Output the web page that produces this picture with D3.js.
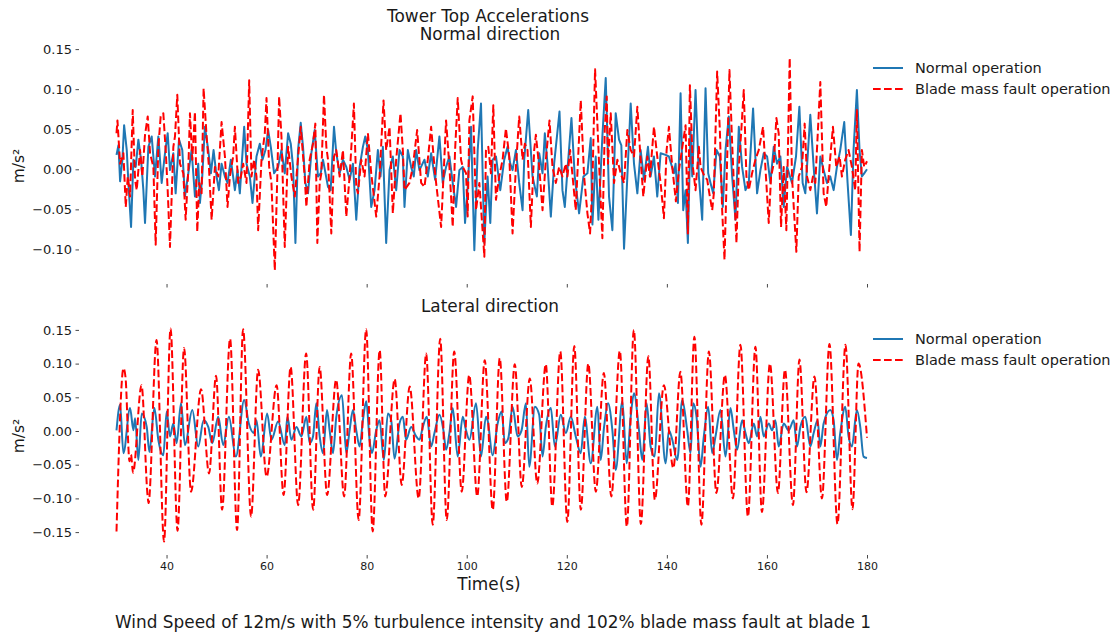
<!DOCTYPE html>
<html>
<head>
<meta charset="utf-8">
<script src="https://cdn.jsdelivr.net/npm/d3@7"></script>
<style>
  body { margin: 0; background: #fff; }
  svg { display: block; font-family: "DejaVu Sans", sans-serif; }
</style>
</head>
<body>
<svg id="chart" width="1118" height="637"></svg>
<script>
// Tower top acceleration records, [time (s), acceleration (m/s²)]
// Normal (fore-aft) direction, healthy rotor
const normalDirHealthy = [
[30.0,0.018],[30.39,0.030],[30.72,-0.015],[31.18,0.012],[31.52,0.055],[32.05,0.024],[32.38,-0.017],[32.91,-0.072],[33.38,0.012],[33.84,0.003],[34.37,0.037],[34.91,0.012],[35.37,-0.026],[35.70,-0.067],[36.37,0.028],[37.03,0.041],[37.70,-0.009],[38.36,0.041],[39.03,-0.017],[39.69,0.020],[40.23,0.045],[40.69,-0.001],[41.36,0.020],[41.82,-0.030],[42.49,0.037],[43.15,0.024],[43.68,-0.034],[44.35,-0.005],[45.01,0.024],[45.68,-0.034],[46.34,0.007],[46.68,-0.042],[47.14,-0.009],[47.67,0.053],[48.34,0.024],[48.87,-0.005],[49.40,0.024],[50.00,-0.009],[50.47,-0.026],[51.00,0.007],[51.67,-0.009],[52.19,-0.017],[52.86,0.012],[53.66,-0.026],[54.19,-0.001],[54.65,-0.030],[55.52,0.053],[55.98,0.007],[56.65,-0.009],[57.18,-0.042],[57.98,0.016],[58.64,0.032],[59.18,0.012],[59.77,0.024],[60.31,0.049],[60.84,0.028],[61.50,-0.005],[62.30,0.003],[62.97,0.024],[63.63,-0.005],[64.30,0.045],[64.83,0.032],[65.29,0.003],[65.76,-0.092],
[66.28,0.024],[66.82,0.058],[67.28,0.028],[67.75,-0.017],[68.28,-0.030],[68.94,0.020],[69.61,0.049],[70.27,-0.009],[70.81,-0.005],[71.27,0.012],[72.27,-0.022],[72.80,-0.026],[73.47,0.053],[73.93,0.020],[74.60,-0.005],[75.26,0.012],[75.93,0.003],[76.59,-0.013],[77.26,0.007],[77.92,-0.063],[78.59,0.003],[79.25,0.028],[79.72,0.041],[80.25,0.024],[80.91,-0.047],[81.58,-0.026],[82.24,0.024],[82.77,-0.009],[83.24,0.028],[83.90,-0.092],[84.57,-0.001],[85.23,0.016],[85.90,-0.026],[86.56,0.024],[87.23,0.016],[87.56,-0.047],[88.23,0.024],[88.89,0.003],[89.42,-0.009],[89.89,0.024],[90.55,-0.001],[91.55,0.012],[92.22,-0.009],[92.88,0.020],[93.68,-0.013],[94.54,0.041],[95.21,-0.017],[95.87,0.003],[96.54,0.016],[97.20,-0.017],[97.87,-0.047],[98.53,-0.001],[99.20,0.003],[99.66,-0.067],[100.19,-0.022],[100.86,0.053],[101.52,-0.101],[102.19,0.024],[102.85,0.082],
[103.51,-0.092],[104.17,-0.009],[104.71,-0.067],[105.17,0.012],[105.84,0.016],[106.70,-0.026],[107.50,0.012],[108.16,0.028],[108.70,0.007],[109.16,-0.001],[109.83,0.024],[110.49,-0.017],[111.16,-0.051],[111.49,0.012],[112.29,0.074],[113.15,-0.009],[114.02,-0.034],[114.48,0.020],[115.15,-0.005],[115.61,0.045],[116.14,0.007],[116.81,-0.059],[117.47,0.007],[118.54,0.072],[119.13,-0.026],[119.60,-0.047],[120.13,-0.001],[120.93,0.064],[121.59,-0.009],[122.46,-0.055],[123.32,-0.009],[124.12,-0.005],[124.79,0.039],[125.12,-0.069],[125.78,0.016],[126.32,-0.063],[127.11,0.041],[127.78,0.114],[128.44,-0.034],[129.11,-0.076],[129.77,0.070],[130.44,0.037],[130.90,0.030],[131.44,-0.099],[132.10,-0.009],[132.77,0.082],[133.43,0.007],[134.10,-0.030],[134.76,0.024],[135.42,-0.013],[136.22,0.028],[136.75,-0.009],[137.42,0.016],[138.08,-0.034],[138.75,0.020],[139.75,0.018],[140.41,0.016],
[141.41,-0.005],[141.74,0.007],[142.21,-0.042],[142.74,0.095],[143.27,-0.051],[143.74,-0.026],[144.20,-0.092],[144.73,0.049],[145.07,-0.009],[145.73,0.099],[146.40,-0.009],[147.06,-0.063],[147.73,0.101],[148.26,-0.005],[148.72,-0.017],[149.26,-0.030],[149.92,0.024],[150.59,0.016],[151.18,-0.047],[151.72,0.024],[152.38,0.066],[153.05,-0.009],[153.71,-0.063],[154.38,0.053],[155.04,0.003],[155.71,-0.026],[156.37,-0.017],[157.23,0.076],[158.03,-0.030],[158.70,-0.001],[159.36,0.020],[160.03,0.016],[160.69,-0.017],[161.36,0.028],[162.02,0.007],[162.69,0.016],[163.35,-0.047],[164.02,0.003],[165.01,-0.017],[165.81,0.016],[166.48,0.078],[167.14,-0.017],[167.67,-0.030],[168.67,0.068],[169.34,0.003],[170.00,-0.055],[170.67,0.016],[171.33,-0.001],[172.00,-0.017],[172.66,-0.009],[173.33,-0.026],[173.99,0.003],[174.65,0.024],[175.45,0.059],[176.12,-0.017],[176.78,-0.082],[177.31,0.024],[177.98,0.099],[178.51,0.024],[178.98,-0.009],[179.44,-0.005],[180.0,0.000]
];

// Normal (fore-aft) direction, blade mass fault
const normalDirFault = [
[30.0,0.045],[30.19,0.061],[30.72,0.007],[31.38,0.020],[31.85,-0.047],[32.25,-0.009],[32.71,-0.034],[33.24,0.074],[33.71,-0.013],[34.04,-0.026],[34.71,0.024],[35.17,-0.009],[35.70,0.043],[36.24,0.066],[36.71,0.020],[37.37,0.003],[37.83,-0.094],[38.36,0.028],[38.83,0.066],[39.36,0.070],[39.83,0.024],[40.23,-0.026],[40.69,-0.097],[41.36,0.028],[41.69,0.041],[42.15,0.093],[42.69,0.007],[43.35,-0.005],[43.82,-0.063],[44.35,-0.001],[44.68,0.070],[45.15,0.012],[45.68,0.072],[46.14,-0.078],[46.54,-0.017],[47.01,-0.030],[47.41,0.101],[48.01,0.041],[48.47,0.003],[49.01,-0.063],[49.67,0.003],[50.33,-0.009],[51.00,0.059],[51.67,0.016],[52.19,-0.047],[52.66,-0.009],[53.32,0.016],[53.66,0.053],[54.32,-0.017],[54.86,-0.009],[55.32,0.007],[55.98,-0.017],[56.52,0.111],[56.98,-0.009],[57.51,0.012],[57.98,-0.009],[58.31,-0.076],[58.98,0.012],[59.64,0.045],[59.98,0.089],[60.51,0.003],[60.97,-0.017],[61.64,-0.126],[62.17,-0.001],[62.50,0.091],[62.97,0.041],[63.63,-0.097],[64.30,0.028],[64.96,-0.009],[65.63,-0.034],
[66.42,0.024],[66.82,0.053],[67.61,-0.009],[67.95,-0.047],[68.61,0.012],[69.28,0.032],[69.74,0.057],[70.14,-0.092],[70.61,-0.017],[70.94,-0.005],[71.47,0.093],[71.94,0.028],[72.27,0.012],[72.93,-0.080],[73.47,0.016],[73.93,0.024],[74.60,-0.009],[75.26,0.024],[75.93,-0.059],[76.59,-0.009],[77.45,0.082],[77.92,-0.022],[78.25,-0.030],[78.92,0.012],[79.58,-0.009],[80.25,0.045],[80.91,-0.005],[81.91,-0.059],[82.57,-0.009],[83.37,0.086],[83.90,0.024],[84.57,0.053],[85.23,-0.055],[85.90,0.012],[86.76,0.070],[87.23,0.024],[87.56,-0.026],[88.56,-0.017],[89.22,0.003],[90.09,0.049],[90.89,-0.017],[91.55,-0.022],[92.22,0.012],[92.88,0.053],[93.55,0.003],[93.88,-0.017],[94.88,-0.072],[95.54,0.016],[95.87,0.061],[96.54,0.003],[97.20,-0.072],[97.67,0.024],[98.20,0.089],[98.86,0.012],[99.20,0.003],[99.86,-0.005],[100.19,-0.059],[100.53,0.061],[101.19,0.091],[101.86,-0.051],[102.52,-0.017],[103.52,-0.109],
[103.84,0.024],[104.31,0.028],[104.84,-0.005],[105.31,0.080],[105.84,-0.038],[106.50,-0.009],[107.17,0.012],[107.83,0.051],[108.50,0.016],[109.16,-0.080],[109.83,0.003],[110.49,0.066],[111.16,0.012],[111.62,0.032],[112.15,0.024],[112.82,-0.072],[113.48,0.024],[113.82,0.043],[114.48,0.003],[115.15,-0.051],[115.81,0.012],[116.54,0.061],[117.14,0.003],[117.81,-0.017],[118.47,0.003],[119.13,-0.009],[119.80,0.007],[120.13,-0.009],[120.66,0.024],[121.79,-0.051],[122.79,0.086],[123.46,-0.009],[124.12,-0.055],[124.65,-0.080],[125.12,-0.017],[125.65,0.125],[126.45,0.007],[127.11,-0.086],[127.58,0.049],[127.98,0.091],[128.24,0.007],[128.78,0.070],[129.44,-0.017],[130.11,0.012],[130.77,-0.005],[131.44,-0.017],[132.10,0.049],[132.77,0.024],[133.43,0.016],[134.10,0.078],[134.63,0.024],[135.29,-0.034],[136.09,0.016],[136.62,-0.009],[137.42,0.053],[138.08,0.016],[138.75,-0.017],[139.41,-0.061],[139.95,0.024],[140.41,0.053],[141.08,0.003],[141.80,-0.040],
[142.41,-0.001],[143.74,0.055],[144.20,-0.080],[144.60,0.105],[145.20,0.003],[145.73,-0.026],[146.40,0.028],[146.73,0.003],[147.53,-0.009],[148.06,-0.013],[148.59,-0.034],[149.06,-0.051],[149.39,-0.030],[150.05,0.122],[150.59,0.049],[151.05,-0.051],[151.52,-0.113],[152.05,0.012],[152.51,0.124],[153.05,0.032],[153.91,-0.092],[154.38,0.003],[154.84,0.045],[155.37,0.099],[155.90,-0.009],[156.37,-0.026],[157.03,-0.005],[157.70,0.012],[158.36,0.024],[159.23,0.053],[159.69,0.003],[160.36,-0.067],[160.83,-0.009],[161.36,0.007],[161.89,0.064],[162.35,0.045],[162.82,-0.072],[163.35,0.003],[163.88,-0.076],[164.55,0.139],[165.01,-0.009],[165.88,-0.103],[166.35,-0.009],[167.01,0.003],[167.54,0.057],[168.01,-0.009],[168.67,-0.026],[169.20,-0.009],[169.67,-0.017],[170.67,0.109],[171.33,-0.030],[171.86,-0.047],[172.33,-0.009],[173.19,0.053],[173.86,0.003],[174.52,0.016],[174.99,-0.009],[175.65,0.012],[176.32,0.024],[176.98,0.003],[177.65,-0.026],[177.98,0.074],[178.51,-0.103],[178.98,0.024],[179.44,0.003],[180.0,0.010]
];

// Lateral (side-side) direction, healthy rotor
const lateralHealthy = [
[30.0,0.001],[30.72,0.039],[31.38,-0.033],[32.71,0.034],[33.38,0.001],[33.71,0.019],[34.37,-0.043],[35.04,0.026],[36.04,0.006],[36.57,-0.031],[37.57,0.034],[38.36,-0.013],[39.36,-0.036],[40.03,0.029],[40.69,-0.008],[41.36,0.011],[42.02,-0.018],[42.89,0.041],[43.68,-0.021],[45.15,0.031],[46.34,-0.023],[47.41,0.016],[48.34,0.006],[49.14,-0.018],[50.33,0.021],[51.33,-0.021],[52.46,0.021],[53.86,-0.038],[55.52,0.046],[56.45,0.011],[57.45,-0.003],[57.98,0.016],[58.84,-0.038],[60.11,0.026],[60.97,-0.013],[62.30,0.014],[63.63,-0.021],[64.16,0.021],[64.96,-0.013],[65.96,0.006],
[66.95,-0.008],[67.95,0.021],[68.61,-0.018],[69.28,-0.008],[69.94,0.041],[70.61,-0.008],[71.27,-0.033],[72.07,0.031],[72.60,0.001],[73.27,-0.033],[73.93,0.021],[75.06,0.053],[75.93,-0.033],[76.59,0.001],[77.26,0.031],[77.92,0.001],[78.59,-0.023],[79.25,0.016],[79.92,0.044],[80.58,-0.013],[81.05,-0.033],[81.91,0.001],[82.57,0.016],[83.44,-0.043],[84.24,0.026],[84.90,0.016],[85.57,-0.041],[86.56,0.011],[87.23,0.021],[87.89,-0.013],[88.89,0.006],[89.89,-0.008],[90.55,-0.013],[91.22,0.006],[92.02,0.021],[92.88,-0.023],[93.55,-0.003],[94.54,0.024],[95.34,0.001],[95.87,-0.028],[96.54,-0.003],[97.20,0.034],[98.20,-0.038],[99.20,0.021],[99.86,0.001],[100.53,-0.013],[101.86,0.041],[102.85,-0.038],[103.85,0.021],
[104.17,0.016],[105.17,-0.036],[106.17,0.011],[106.97,0.029],[107.63,-0.018],[108.30,-0.011],[109.16,0.036],[110.16,-0.008],[110.96,0.001],[111.82,0.041],[112.49,-0.053],[113.62,0.036],[114.48,0.024],[115.15,-0.038],[115.81,0.006],[116.81,0.034],[117.61,-0.023],[118.80,0.024],[119.80,-0.003],[120.80,0.021],[121.79,-0.008],[122.79,-0.033],[123.59,0.021],[124.79,-0.048],[126.12,0.036],[126.78,-0.043],[127.45,0.006],[128.24,0.041],[129.11,0.001],[129.77,-0.058],[131.10,0.044],[131.97,-0.048],[132.77,0.021],[133.43,0.056],[134.43,0.001],[135.09,-0.043],[135.96,0.041],[136.75,-0.023],[137.55,-0.038],[138.42,0.056],[139.75,-0.048],[140.41,0.001],[141.08,-0.013],
[142.07,-0.043],[143.07,0.046],[144.07,0.001],[144.73,-0.033],[145.27,0.041],[145.93,0.021],[146.73,-0.053],[147.39,-0.008],[148.26,0.036],[149.06,-0.033],[149.72,-0.008],[150.72,0.031],[151.72,-0.038],[152.71,0.034],[153.38,0.001],[154.04,-0.028],[155.04,0.016],[155.71,-0.003],[156.37,-0.018],[157.37,0.011],[158.03,-0.008],[158.70,0.021],[159.36,-0.008],[160.36,0.011],[161.02,0.001],[161.69,0.016],[162.35,-0.023],[163.35,0.011],[164.35,0.001],[165.35,0.016],[166.01,-0.023],[166.68,0.006],[167.67,0.021],[168.67,-0.023],[169.34,-0.003],[170.13,0.016],[170.67,-0.023],[171.33,0.011],[172.66,0.031],[173.33,0.016],[173.99,-0.043],[174.65,-0.003],[175.65,0.036],[176.32,-0.008],[176.98,-0.023],[177.98,0.031],[178.65,0.006],[179.31,-0.038],[180.0,-0.040]
];

// Lateral (side-side) direction, blade mass fault
const lateralFault = [
[30.0,-0.149],[31.4,0.093],[31.8,0.080],[32.6,-0.045],[32.9,-0.035],[33.3,-0.062],[35.0,0.068],[36.2,-0.095],[36.4,-0.107],[38.0,0.135],[39.5,-0.164],[40.8,0.152],[42.2,-0.148],[43.5,0.123],[44.9,-0.090],[46.9,0.062],[48.5,-0.063],[49.9,0.082],[51.1,-0.117],[52.7,0.137],[54.1,-0.147],[55.3,0.151],[56.9,-0.127],[58.3,0.091],[60.0,-0.068],[62.0,0.068],[63.4,-0.095],[64.8,0.095],[66.3,-0.110],
[67.9,0.115],[69.3,-0.117],[70.6,0.095],[72.1,-0.095],[73.9,0.076],[75.5,-0.097],[76.9,0.115],[78.4,-0.132],[79.9,0.151],[81.2,-0.149],[82.6,0.120],[83.7,-0.097],[85.6,0.077],[87.0,-0.080],[88.6,0.066],[90.4,-0.100],[91.9,0.115],[93.2,-0.139],[94.7,0.137],[96.0,-0.132],[97.5,0.118],[99.0,-0.090],[100.5,0.083],[102.1,-0.097],[103.6,0.105],
[105.2,-0.117],[106.6,0.108],[108.0,-0.105],[109.6,0.099],[111.0,-0.083],[112.6,0.078],[114.1,-0.078],[115.8,0.099],[117.1,-0.112],[118.7,0.118],[120.1,-0.135],[121.5,0.126],[122.8,-0.117],[124.3,0.100],[125.8,-0.090],[127.4,0.086],[128.9,-0.097],[130.6,0.119],[132.0,-0.142],[133.4,0.150],[134.8,-0.138],[136.3,0.111],[137.6,-0.102],[139.4,0.068],[141.3,-0.055],
[142.7,0.088],[144.2,-0.112],[145.5,0.140],[146.9,-0.139],[148.4,0.118],[149.9,-0.092],[151.6,0.083],[153.2,-0.100],[154.7,0.128],[156.2,-0.127],[157.7,0.125],[159.0,-0.120],[160.6,0.100],[162.2,-0.092],[163.6,0.091],[165.2,-0.110],[166.5,0.106],[167.9,-0.091],[169.5,0.081],[171.0,-0.100],[172.5,0.129],[174.1,-0.138],[175.7,0.128],[177.1,-0.116],[178.3,0.100],[180.0,-0.010]
];

const timeTicks = [40, 60, 80, 100, 120, 140, 160, 180];
const normalDirTicks = [-0.10, -0.05, 0.00, 0.05, 0.10, 0.15];
const lateralTicks = [-0.15, -0.10, -0.05, 0.00, 0.05, 0.10, 0.15];
const seriesNames = ["Normal operation", "Blade mass fault operation"];

const svg = d3.select("#chart");
const textColor = "#1a1a1a";
const healthyColor = "#1f77b4";
const faultColor = "#ff0000";

const x = d3.scaleLinear().domain([30, 180]).range([116.5, 867]);

const panels = [
  { title: "Normal direction", healthy: normalDirHealthy, fault: normalDirFault,
    ticks: normalDirTicks, yRange: [289.5, 49.1], axisY: 284, showTime: false,
    titleY: 40, legendY: 68, labelY: 166, curve: d3.curveLinear },
  { title: "Lateral direction", healthy: lateralHealthy, fault: lateralFault,
    ticks: lateralTicks, yRange: [532.1, 329.9], axisY: 555, showTime: true,
    titleY: 312, legendY: 339, labelY: 436, curve: d3.curveMonotoneX }
];

panels.forEach(p => {
  const y = d3.scaleLinear().domain([-0.15, 0.15]).range(p.yRange);
  const g = svg.append("g");

  // y axis
  const yAxis = g.append("g")
    .attr("transform", "translate(79,0)")
    .call(d3.axisLeft(y).tickValues(p.ticks).tickFormat(d3.format(".2f"))
      .tickSize(3.5).tickPadding(3.5));
  yAxis.select(".domain").remove();
  yAxis.selectAll("line").attr("stroke", textColor).attr("stroke-width", 0.8);
  yAxis.selectAll("text").attr("fill", textColor)
    .style("font-family", "DejaVu Sans").style("font-size", "13px");

  // x axis
  const xAxis = g.append("g")
    .attr("transform", `translate(0,${p.axisY})`)
    .call(d3.axisBottom(x).tickValues(timeTicks)
      .tickFormat(p.showTime ? d3.format("d") : () => "")
      .tickSize(3.5).tickPadding(3.5));
  xAxis.select(".domain").remove();
  xAxis.selectAll("line").attr("stroke", textColor).attr("stroke-width", 0.8);
  xAxis.selectAll("text").attr("fill", textColor)
    .style("font-family", "DejaVu Sans").style("font-size", "11px");

  // series
  const line = d3.line().x(d => x(d[0])).y(d => y(d[1])).curve(p.curve);
  g.append("path").datum(p.healthy)
    .attr("fill", "none").attr("stroke", healthyColor)
    .attr("stroke-width", 2).attr("stroke-linejoin", "round")
    .attr("d", line);
  g.append("path").datum(p.fault)
    .attr("fill", "none").attr("stroke", faultColor)
    .attr("stroke-width", 2).attr("stroke-dasharray", "7.7,3.3")
    .attr("stroke-linejoin", "round")
    .attr("d", line);

  // panel title
  g.append("text").attr("x", 490).attr("y", p.titleY)
    .attr("text-anchor", "middle").attr("fill", textColor)
    .style("font-size", "16.9px").text(p.title);

  // y label
  g.append("text")
    .attr("transform", `translate(18.5,${p.labelY}) rotate(-90)`)
    .attr("text-anchor", "middle").attr("dy", "0.35em")
    .attr("fill", textColor).style("font-size", "15.5px").text("m/s²");

  // legend
  const lg = g.append("g");
  [healthyColor, faultColor].forEach((c, i) => {
    const ly = p.legendY + i * 21;
    lg.append("line").attr("x1", 873).attr("x2", 903).attr("y1", ly).attr("y2", ly)
      .attr("stroke", c).attr("stroke-width", 2)
      .attr("stroke-dasharray", i === 1 ? "7.7,3.3" : null);
    lg.append("text").attr("x", 915).attr("y", ly).attr("dy", "0.35em")
      .attr("fill", textColor).style("font-size", "14.5px").text(seriesNames[i]);
  });
});

// figure titles and captions
svg.append("text").attr("x", 488).attr("y", 22).attr("text-anchor", "middle")
  .attr("fill", textColor).style("font-size", "16.9px").text("Tower Top Accelerations");
svg.append("text").attr("x", 489).attr("y", 590).attr("text-anchor", "middle")
  .attr("fill", textColor).style("font-size", "16.9px").text("Time(s)");
svg.append("text").attr("x", 493).attr("y", 628).attr("text-anchor", "middle")
  .attr("fill", textColor).style("font-size", "16.9px")
  .text("Wind Speed of 12m/s with 5% turbulence intensity and 102% blade mass fault at blade 1");
</script>
</body>
</html>
